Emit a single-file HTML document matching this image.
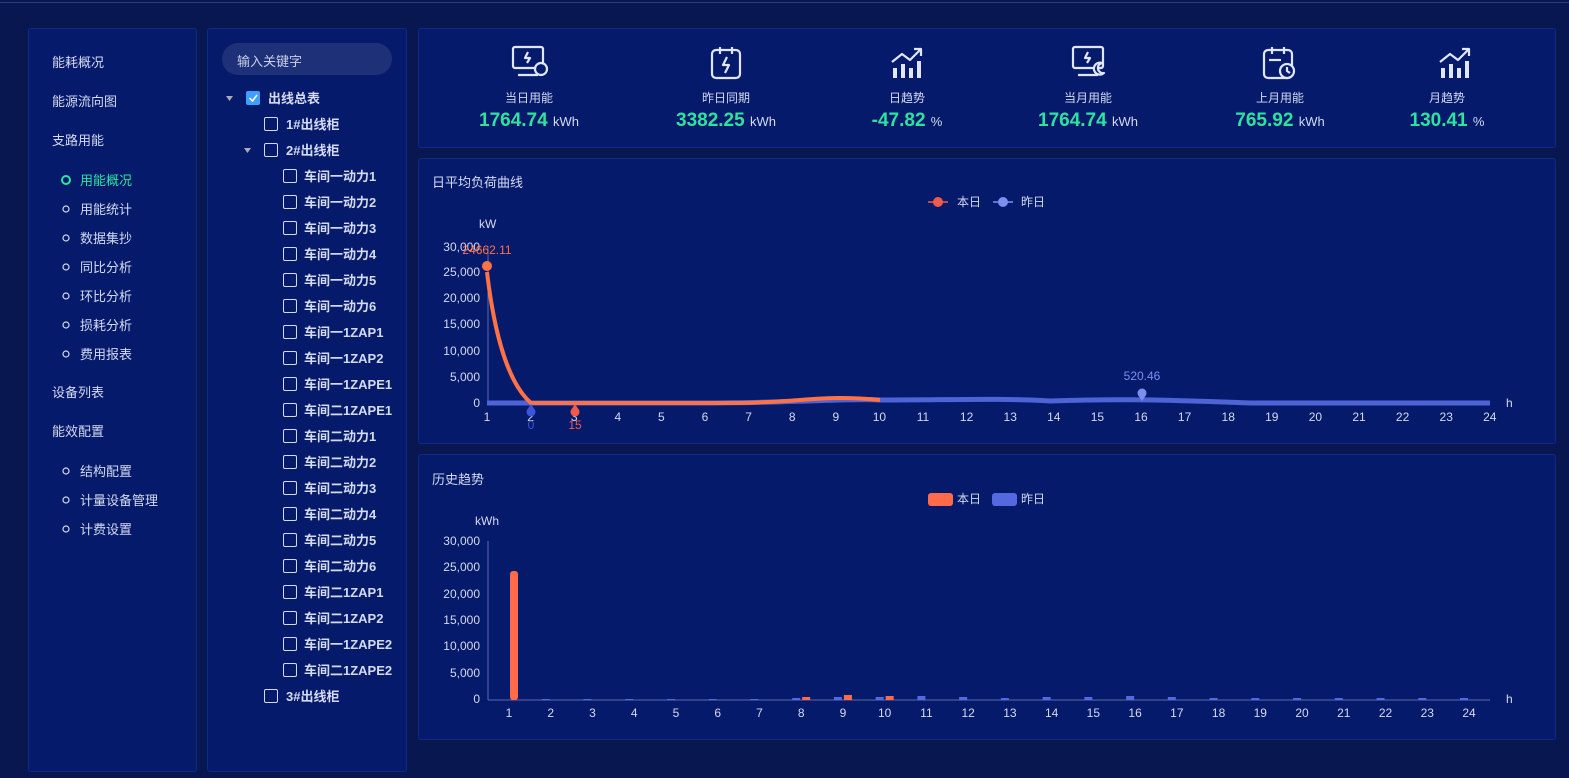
<!DOCTYPE html>
<html><head><meta charset="utf-8"><style>
*{margin:0;padding:0;box-sizing:border-box}
body{width:1569px;height:778px;background:#08174f;font-family:"Liberation Sans","Noto Sans CJK SC",sans-serif;position:relative;overflow:hidden;color:#d4daf0}
.p{position:absolute;background:#061a6b;border:1px solid #0d2a86;border-radius:3px}
.t{position:absolute;font-size:13px;white-space:nowrap}
.cb{position:absolute;width:14px;height:14px;border:1px solid #d4daf0;border-radius:2px}
.st{position:absolute;text-align:center;width:180px}
.st .l{font-size:12px;color:#d4daf0;margin-top:6px}
.st .v{font-size:19px;font-weight:bold;color:#2de3a0;margin-top:4px}
.st .v span{font-size:13px;font-weight:normal;color:#d4daf0}
svg text{font-family:"Liberation Sans","Noto Sans CJK SC",sans-serif}
</style></head><body>
<div style="position:absolute;left:0;top:2px;width:1569px;height:1px;background:#2a3a7a"></div>
<div class="p" style="left:28px;top:28px;width:169px;height:744px"></div>
<div class="p" style="left:207px;top:28px;width:200px;height:744px"></div>
<div class="p" style="left:418px;top:28px;width:1138px;height:120px"></div>
<div class="p" style="left:418px;top:158px;width:1138px;height:286px"></div>
<div class="p" style="left:418px;top:454px;width:1138px;height:286px"></div>

<div class="t" style="left:52px;top:52px">能耗概况</div>
<div class="t" style="left:52px;top:91px">能源流向图</div>
<div class="t" style="left:52px;top:130px">支路用能</div>
<div class="t" style="left:52px;top:382px">设备列表</div>
<div class="t" style="left:52px;top:421px">能效配置</div>
<div style="position:absolute;left:61px;top:175px;width:10px;height:10px;border:2px solid #2de3a0;border-radius:50%"></div>
<div class="t" style="left:80px;top:170px;color:#2de3a0">用能概况</div>
<div class="t" style="left:80px;top:199px">用能统计</div>
<div class="t" style="left:80px;top:228px">数据集抄</div>
<div class="t" style="left:80px;top:257px">同比分析</div>
<div class="t" style="left:80px;top:286px">环比分析</div>
<div class="t" style="left:80px;top:315px">损耗分析</div>
<div class="t" style="left:80px;top:344px">费用报表</div>
<div class="t" style="left:80px;top:461px">结构配置</div>
<div class="t" style="left:80px;top:490px">计量设备管理</div>
<div class="t" style="left:80px;top:519px">计费设置</div>
<svg style="position:absolute;left:0;top:0" width="1569" height="778">
<g fill="none" stroke="#d4daf0" stroke-width="1.2">
<circle cx="66" cy="209" r="3"/><circle cx="66" cy="238" r="3"/><circle cx="66" cy="267" r="3"/><circle cx="66" cy="296" r="3"/><circle cx="66" cy="325" r="3"/><circle cx="66" cy="354" r="3"/><circle cx="66" cy="471" r="3"/><circle cx="66" cy="500" r="3"/><circle cx="66" cy="529" r="3"/>
</g>
</svg>

<div style="position:absolute;left:222px;top:43px;width:170px;height:32px;border-radius:16px;background:#1e3078"></div>
<div class="t" style="left:237px;top:51px;color:#c8d0e8">输入关键字</div>
<svg style="position:absolute;left:0;top:0" width="420" height="778">
<polygon points="226,96 233,96 229.5,101" fill="#aab"/>
<polygon points="244,148 251,148 247.5,153" fill="#aab"/>
<rect x="246" y="91" width="14" height="14" rx="2" fill="#409eff"/>
<polyline points="249.5,98 252.5,101 257,95" fill="none" stroke="#fff" stroke-width="1.5"/>
</svg>
<div class="t" style="left:268px;top:88px;font-weight:bold">出线总表</div>
<div class="cb" style="left:264px;top:117px"></div><div class="t" style="left:286px;top:114px;font-weight:bold">1#出线柜</div>
<div class="cb" style="left:264px;top:143px"></div><div class="t" style="left:286px;top:140px;font-weight:bold">2#出线柜</div>
<div class="cb" style="left:264px;top:689px"></div><div class="t" style="left:286px;top:686px;font-weight:bold">3#出线柜</div>
<div id="kids"></div>
<script>
var n=["车间一动力1","车间一动力2","车间一动力3","车间一动力4","车间一动力5","车间一动力6","车间一1ZAP1","车间一1ZAP2","车间一1ZAPE1","车间二1ZAPE1","车间二动力1","车间二动力2","车间二动力3","车间二动力4","车间二动力5","车间二动力6","车间二1ZAP1","车间二1ZAP2","车间一1ZAPE2","车间二1ZAPE2"],h="";
for(var i=0;i<n.length;i++){var y=169+i*26;h+='<div class="cb" style="left:283px;top:'+y+'px"></div><div class="t" style="left:304px;top:'+(y-3)+'px;font-weight:bold">'+n[i]+'</div>';}
document.getElementById("kids").innerHTML=h;
</script>

<svg style="position:absolute;left:0;top:0" width="1569" height="778">
<g fill="none" stroke="#e0e6ff" stroke-width="2.2" stroke-linejoin="round">
<g transform="translate(512,46)"><rect x="1" y="1" width="30" height="21" rx="2"/><line x1="6" y1="29" x2="26" y2="29"/><polyline points="16,6 13,12 18,12 15,17"/><circle cx="29" cy="23" r="6" fill="#061a6b"/></g>
<g transform="translate(711,46)"><rect x="1" y="4" width="28" height="28" rx="4"/><line x1="9" y1="1" x2="9" y2="8"/><line x1="21" y1="1" x2="21" y2="8"/><polyline points="16,11 12,19 18,19 14,27"/></g>
<g transform="translate(891,46)"><polyline points="1,16 11,8 19,14 30,3"/><polyline points="23,3 30,3 30,10"/><line x1="4" y1="22" x2="4" y2="32" stroke-width="4"/><line x1="12" y1="18" x2="12" y2="32" stroke-width="4"/><line x1="20" y1="22" x2="20" y2="32" stroke-width="4"/><line x1="28" y1="15" x2="28" y2="32" stroke-width="4"/></g>
<g transform="translate(1072,46)"><rect x="1" y="1" width="30" height="21" rx="2"/><line x1="6" y1="29" x2="26" y2="29"/><polyline points="16,6 13,12 18,12 15,17"/><path d="M30 17 a6 6 0 1 0 2 10 a5 5 0 0 1 -2 -10z" fill="#061a6b"/></g>
<g transform="translate(1263,46)"><rect x="1" y="4" width="28" height="28" rx="4"/><line x1="9" y1="1" x2="9" y2="8"/><line x1="21" y1="1" x2="21" y2="8"/><line x1="6" y1="14" x2="18" y2="14"/><circle cx="24" cy="25" r="7" fill="#061a6b"/><polyline points="24,21 24,25 27,27"/></g>
<g transform="translate(1439,46)"><polyline points="1,16 11,8 19,14 30,3"/><polyline points="23,3 30,3 30,10"/><line x1="4" y1="22" x2="4" y2="32" stroke-width="4"/><line x1="12" y1="18" x2="12" y2="32" stroke-width="4"/><line x1="20" y1="22" x2="20" y2="32" stroke-width="4"/><line x1="28" y1="15" x2="28" y2="32" stroke-width="4"/></g>
</g>
</svg>
<div class="st" style="left:439px;top:83px"><div class="l">当日用能</div><div class="v">1764.74 <span>kWh</span></div></div>
<div class="st" style="left:636px;top:83px"><div class="l">昨日同期</div><div class="v">3382.25 <span>kWh</span></div></div>
<div class="st" style="left:817px;top:83px"><div class="l">日趋势</div><div class="v">-47.82 <span>%</span></div></div>
<div class="st" style="left:998px;top:83px"><div class="l">当月用能</div><div class="v">1764.74 <span>kWh</span></div></div>
<div class="st" style="left:1190px;top:83px"><div class="l">上月用能</div><div class="v">765.92 <span>kWh</span></div></div>
<div class="st" style="left:1357px;top:83px"><div class="l">月趋势</div><div class="v">130.41 <span>%</span></div></div>

<svg style="position:absolute;left:0;top:0" width="1569" height="778" font-size="12">
<text x="432" y="187" fill="#d4daf0" font-size="13">日平均负荷曲线</text>
<line x1="928" y1="202" x2="948" y2="202" stroke="#f25a4a" stroke-width="1.5"/><circle cx="938" cy="202" r="5" fill="#f25a4a"/><text x="957" y="206" fill="#d4daf0">本日</text>
<line x1="993" y1="202" x2="1013" y2="202" stroke="#7b8ff0" stroke-width="1.5"/><circle cx="1003" cy="202" r="5" fill="#7b8ff0"/><text x="1021" y="206" fill="#d4daf0">昨日</text>
<text x="479" y="228" fill="#d4daf0">kW</text>
<g fill="#d4daf0" text-anchor="end"><text x="480" y="251">30,000</text><text x="480" y="276">25,000</text><text x="480" y="302">20,000</text><text x="480" y="328">15,000</text><text x="480" y="355">10,000</text><text x="480" y="381">5,000</text><text x="480" y="407">0</text></g>
<line x1="488" y1="246" x2="488" y2="403" stroke="#5a6aa8"/>
<g fill="#d4daf0" text-anchor="middle" id="x1"></g>
<text x="1506" y="407" fill="#d4daf0">h</text>
<path d="M487 403 L 700 403 C 800 403 850 398 880 400 C 950 400 1000 398 1050 401 C 1100 399 1150 399 1250 403 L1490 403" stroke="#4d63d6" stroke-width="5" fill="none"/>
<path d="M487 272 C 495 340 510 385 531 403 L 740 403 C 790 402 810 398 840 398 C 860 398 870 399 880 400" stroke="#ff7246" stroke-width="4" fill="none"/>
<circle cx="487" cy="266" r="5" fill="#ff7246"/>
<text x="487" y="254" fill="#ff7246" text-anchor="middle">24662.11</text>
<circle cx="531" cy="412" r="4.5" fill="#3d55d8"/><polygon points="527,410 535,410 531,404" fill="#3d55d8"/><text x="531" y="429" fill="#3d55d8" text-anchor="middle">0</text>
<circle cx="575" cy="412" r="4.5" fill="#f25a4a"/><polygon points="571,410 579,410 575,404" fill="#f25a4a"/><text x="575" y="429" fill="#f25a4a" text-anchor="middle">15</text>
<circle cx="1142" cy="393" r="4.5" fill="#7b8ff0"/><polygon points="1138,395 1146,395 1142,401" fill="#7b8ff0"/><text x="1142" y="380" fill="#7b8ff0" text-anchor="middle">520.46</text>

<text x="432" y="484" fill="#d4daf0" font-size="13">历史趋势</text>
<rect x="928" y="493" width="25" height="13" rx="3" fill="#ff6b4a"/><text x="957" y="503" fill="#d4daf0">本日</text>
<rect x="992" y="493" width="25" height="13" rx="3" fill="#5468e0"/><text x="1021" y="503" fill="#d4daf0">昨日</text>
<text x="475" y="525" fill="#d4daf0">kWh</text>
<g fill="#d4daf0" text-anchor="end"><text x="480" y="545">30,000</text><text x="480" y="571">25,000</text><text x="480" y="598">20,000</text><text x="480" y="624">15,000</text><text x="480" y="650">10,000</text><text x="480" y="677">5,000</text><text x="480" y="703">0</text></g>
<line x1="488" y1="700" x2="1490" y2="700" stroke="#5a6aa8"/>
<line x1="488" y1="541" x2="488" y2="700" stroke="#5a6aa8"/>
<text x="1506" y="703" fill="#d4daf0">h</text>
<rect x="510" y="571" width="8" height="129" rx="3" fill="#ff6b4a"/>
<g id="bars"></g>
<g fill="#d4daf0" text-anchor="middle" id="x2"></g>
</svg>
<script>
var s="",t="",b="";
for(var i=1;i<=24;i++){s+='<text x="'+(487+(i-1)*43.6)+'" y="421">'+i+'</text>';t+='<text x="'+(509+(i-1)*41.74)+'" y="717">'+i+'</text>';}
document.getElementById("x1").innerHTML=s;document.getElementById("x2").innerHTML=t;
var bh=[0,0,0,0,0,0,0,1,2,2,3,2,1,2,2,3,2,1,1,1,1,1,1,1],oh=[0,0,0,0,0,0,0,2,4,3];
for(var i=1;i<24;i++){var x=509+i*41.74;b+='<rect x="'+(x-9)+'" y="'+(699-bh[i])+'" width="8" height="'+(bh[i]+1)+'" fill="#5468e0"/>';if(oh[i])b+='<rect x="'+(x+1)+'" y="'+(699-oh[i])+'" width="8" height="'+(oh[i]+1)+'" fill="#ff6b4a"/>';}
document.getElementById("bars").innerHTML=b;
</script>
</body></html>
